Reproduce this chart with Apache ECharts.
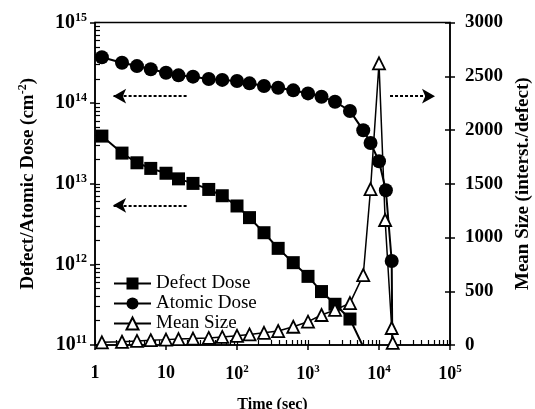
<!DOCTYPE html>
<html>
<head>
<meta charset="utf-8">
<script src="https://cdn.jsdelivr.net/npm/echarts@6/dist/echarts.min.js"></script>
<style>html,body{margin:0;padding:0;background:#fff}#c{width:535px;height:409px}</style>
</head>
<body>
<div id="c"></div>
<script>
// ---- data ----
const defectTime = [1.25, 2.4, 3.9, 6.1, 10, 15, 24, 40, 62, 100, 150, 240, 380, 620, 1000, 1550, 2400, 3900, 6000];
const defectDose = [3.9e13, 2.4e13, 1.82e13, 1.55e13, 1.35e13, 1.15e13, 1.01e13, 8.5e12, 7.1e12, 5.3e12, 3.8e12, 2.47e12, 1.58e12, 1.05e12, 7.1e11, 4.6e11, 3.2e11, 2.1e11, 9.5e10];

const atomicTime = [1.25, 2.4, 3.9, 6.1, 10, 15, 24, 40, 62, 100, 150, 240, 380, 620, 1000, 1550, 2400, 3900, 6000, 7600, 10000, 12500, 15100, 15600];
const atomicDose = [3.7e14, 3.17e14, 2.88e14, 2.63e14, 2.38e14, 2.21e14, 2.13e14, 1.99e14, 1.94e14, 1.88e14, 1.76e14, 1.63e14, 1.55e14, 1.44e14, 1.32e14, 1.2e14, 1.04e14, 8e13, 4.6e13, 3.2e13, 1.9e13, 8.3e12, 1.1e12, 2e10];

const sizeTime = [1.25, 2.4, 3.9, 6.1, 10, 15, 24, 40, 62, 100, 150, 240, 380, 620, 1000, 1550, 2400, 3900, 6000, 7600, 10000, 12200, 15100, 15600];
const meanSize = [25, 30, 38, 45, 50, 55, 60, 66, 75, 85, 98, 113, 130, 170, 217, 279, 326, 390, 650, 1450, 2620, 1163, 158, 20];

const xTickLabels = ['1', '10', '10{s|2}', '10{s|3}', '10{s|4}', '10{s|5}'];

// dotted arrows (annotation) in data coordinates: [fromTime, toTime, value]
const leftArrows = [[19.5, 1.8, 1.22e14], [19.5, 1.8, 5.4e12]];
const rightArrow = [14300, 61500, 1.22e14];

// minor tick positions in log10 space
function minorLog(lo, hi) {
  const out = [];
  for (let e = lo; e < hi; e++) for (let k = 1; k <= 9; k++) out.push(e + Math.log10(k));
  out.push(hi);
  return out;
}

const FONT = 'Liberation Serif';
const supX = { fontSize: 11, fontWeight: 'bold', fontFamily: FONT, color: '#000', padding: [0, 0, 9, 0] };
const supY = { fontSize: 12, fontWeight: 'bold', fontFamily: FONT, color: '#000', padding: [0, 0, 10, 0] };

const pairs = (xs, ys) => xs.map((x, i) => [x, ys[i]]);

const chart = echarts.init(document.getElementById('c'), null, { renderer: 'canvas' });

const arrowData = leftArrows.map(a => [{ coord: [a[0], a[2]] }, { coord: [a[1], a[2]] }]);
arrowData.push([{ coord: [rightArrow[0], rightArrow[2]] }, { coord: [rightArrow[1], rightArrow[2]] }]);

chart.setOption({
  animation: false,
  backgroundColor: '#fff',
  grid: { left: 95, right: 85, top: 22.5, bottom: 64, outerBoundsMode: 'none', containLabel: false,
    show: true, borderColor: '#000', borderWidth: 1.5 },
  legend: {
    orient: 'vertical', left: 113, top: 274, padding: 0, itemWidth: 37, itemHeight: 15, itemGap: 1,
    textStyle: { fontFamily: FONT, fontSize: 19, lineHeight: 18, color: '#000' },
    data: ['Defect Dose', 'Atomic Dose', 'Mean Size']
  },
  xAxis: [
    {
      type: 'log', logBase: 10, min: 1, max: 1e5, position: 'bottom',
      name: 'Time (sec)', nameLocation: 'middle', nameGap: 52,
      nameTextStyle: { fontFamily: FONT, fontSize: 16, fontWeight: 'bold', color: '#000' },
      axisLine: { lineStyle: { color: '#000', width: 1.5 } },
      axisTick: { inside: false, length: 5, lineStyle: { color: '#000', width: 1.5 } },
      splitLine: { show: false },
      axisLabel: {
        margin: 19, color: '#000', fontSize: 18, fontWeight: 'bold', fontFamily: FONT,
        formatter: v => xTickLabels[Math.round(Math.log10(v))],
        rich: { s: supX }
      }
    },
    {
      type: 'value', min: 0, max: 5, position: 'bottom', gridIndex: 0,
      axisLine: { show: false }, axisLabel: { show: false }, splitLine: { show: false },
      axisTick: { inside: true, length: 5, customValues: minorLog(0, 5), lineStyle: { color: '#000', width: 1.2 } }
    }
  ],
  yAxis: [
    {
      type: 'log', logBase: 10, min: 1e11, max: 1e15, position: 'left',
      name: 'Defect/Atomic Dose (cm{s|-2})', nameLocation: 'middle', nameGap: 56, nameRotate: 90,
      nameTextStyle: { fontFamily: FONT, fontSize: 19, fontWeight: 'bold', color: '#000',
        rich: { s: { fontSize: 12, fontWeight: 'bold', fontFamily: FONT, color: '#000', padding: [0, 0, 10, 0] } } },
      axisLine: { lineStyle: { color: '#000', width: 1.5 } },
      axisTick: { inside: false, length: 5, lineStyle: { color: '#000', width: 1.5 } },
      splitLine: { show: false },
      axisLabel: {
        margin: 8, color: '#000', fontSize: 20, fontWeight: 'bold', fontFamily: FONT,
        formatter: v => '10{s|' + Math.round(Math.log10(v)) + '}',
        rich: { s: supY }
      }
    },
    {
      type: 'value', min: 0, max: 3000, interval: 500, position: 'right',
      name: 'Mean Size (interst./defect)', nameLocation: 'middle', nameGap: 63, nameRotate: 90,
      nameTextStyle: { fontFamily: FONT, fontSize: 19, fontWeight: 'bold', color: '#000' },
      axisLine: { lineStyle: { color: '#000', width: 1.5 } },
      axisTick: { inside: false, length: 5, lineStyle: { color: '#000', width: 1.5 } },
      splitLine: { show: false },
      axisLabel: { margin: 15, color: '#000', fontSize: 19, fontWeight: 'bold', fontFamily: FONT, formatter: v => String(v) }
    },
    {
      type: 'value', min: 11, max: 15, position: 'left',
      axisLine: { show: false }, axisLabel: { show: false }, splitLine: { show: false },
      axisTick: { inside: true, length: 5, customValues: minorLog(11, 15), lineStyle: { color: '#000', width: 1.2 } }
    },
    {
      type: 'value', min: 0, max: 3000, interval: 500, position: 'right',
      axisLine: { show: false }, axisLabel: { show: false }, splitLine: { show: false },
      axisTick: { inside: true, length: 5, lineStyle: { color: '#000', width: 1.5 } }
    }
  ],
  series: [
    {
      name: 'Defect Dose', type: 'line', xAxisIndex: 0, yAxisIndex: 0, clip: true,
      data: pairs(defectTime, defectDose),
      symbol: 'rect', symbolSize: 13,
      lineStyle: { color: '#000', width: 2 }, itemStyle: { color: '#000' },
      markLine: {
        silent: true, symbol: ['none', 'arrow'], symbolSize: [11, 13],
        label: { show: false },
        lineStyle: { color: '#000', width: 2, type: [3, 2] },
        data: arrowData
      }
    },
    {
      name: 'Atomic Dose', type: 'line', xAxisIndex: 0, yAxisIndex: 0, clip: true,
      data: pairs(atomicTime, atomicDose),
      symbol: 'circle', symbolSize: 14,
      lineStyle: { color: '#000', width: 2 }, itemStyle: { color: '#000' }
    },
    {
      name: 'Mean Size', type: 'line', xAxisIndex: 0, yAxisIndex: 1, clip: true,
      data: pairs(sizeTime, meanSize),
      symbol: 'triangle', symbolSize: 12,
      lineStyle: { color: '#000', width: 1.5 },
      itemStyle: { color: '#fff', borderColor: '#000', borderWidth: 1.8 }
    }
  ]
});
</script>
</body>
</html>
